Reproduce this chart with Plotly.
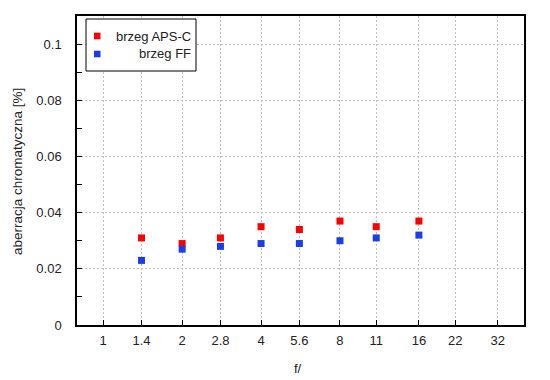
import plotly.graph_objects as go

f_stops = [1.4, 2, 2.8, 4, 5.6, 8, 11, 16]
aps_c = [0.031, 0.029, 0.031, 0.035, 0.034, 0.037, 0.035, 0.037]
ff = [0.023, 0.027, 0.028, 0.029, 0.029, 0.030, 0.031, 0.032]
x_ticks = [1, 1.4, 2, 2.8, 4, 5.6, 8, 11, 16, 22, 32]
x_tick_labels = ["1", "1.4", "2", "2.8", "4", "5.6", "8", "11", "16", "22", "32"]
series_names = ["brzeg APS-C", "brzeg FF"]
series_colors = ["#ff0000", "#1a3ee6"]

fig = go.Figure()
fig.add_trace(go.Scatter(x=f_stops, y=aps_c, mode="markers", name=series_names[0],
                         marker=dict(symbol="square", size=7, color=series_colors[0])))
fig.add_trace(go.Scatter(x=f_stops, y=ff, mode="markers", name=series_names[1],
                         marker=dict(symbol="square", size=7, color=series_colors[1])))

grid = dict(showgrid=True, gridcolor="#c0c0c0", griddash="2px,2px", gridwidth=1)
tickfont = dict(size=13, color="#222222")
fig.update_xaxes(type="log", range=[-0.1, 1.605], tickvals=x_ticks, ticktext=x_tick_labels,
                 ticks="inside", ticklen=5, tickcolor="black", showline=True, linecolor="black",
                 linewidth=1.5, mirror=True, zeroline=False, automargin=False,
                 ticklabelstandoff=3, tickfont=tickfont, **grid)
fig.update_yaxes(range=[0, 0.11], dtick=0.02, tick0=0, ticks="inside", ticklen=5, tickcolor="black",
                 minor=dict(dtick=0.01, ticks="inside", ticklen=5, tickcolor="black", showgrid=False),
                 showline=True, linecolor="black", linewidth=1.5, mirror=True, zeroline=False,
                 automargin=False, ticklabelstandoff=11, tickfont=tickfont, **grid)

# window coordinates of the plot area (page has an 8px body margin)
L, R, T, B = 77, 524, 16, 325
def px(x):
    return (x - L) / (R - L)
def py(y):
    return 1 - (y - T) / (B - T)

# axis titles
fig.add_annotation(xref="paper", yref="paper", x=0, y=py(172), xshift=17 - L, text="aberracja chromatyczna [%]",
                   textangle=-90, showarrow=False, xanchor="center", yanchor="middle",
                   font=dict(size=13.5, color="#222222"))
fig.add_annotation(xref="paper", yref="paper", x=px(298), y=0, yshift=-(368 - B), text="f/",
                   showarrow=False, xanchor="center", yanchor="middle", font=dict(size=13, color="#222222"))

# manual legend (box, markers, right-aligned labels)
fig.add_shape(type="rect", xref="paper", yref="paper", x0=px(86), x1=px(196), y0=py(71), y1=py(19),
              line=dict(color="black", width=1), fillcolor="white", layer="above")
for i, (name, col) in enumerate(zip(series_names, series_colors)):
    cy = 36 + i * 18
    fig.add_shape(type="rect", xref="paper", yref="paper", x0=px(94), x1=px(100.5),
                  y0=py(cy + 3.3), y1=py(cy - 3.3), line=dict(width=0), fillcolor=col, layer="above")
    fig.add_annotation(xref="paper", yref="paper", x=px(192.5), y=py(cy), text=name,
                       showarrow=False, xanchor="right", yanchor="middle",
                       font=dict(size=13, color="#222222"))

fig.update_layout(
    width=542, height=372,
    margin=dict(l=69, r=26, t=8, b=55),
    paper_bgcolor="white", plot_bgcolor="white",
    font=dict(family="Liberation Sans, Arial, sans-serif", size=13, color="#222222"),
    showlegend=False,
)
fig.write_html("out.html")
